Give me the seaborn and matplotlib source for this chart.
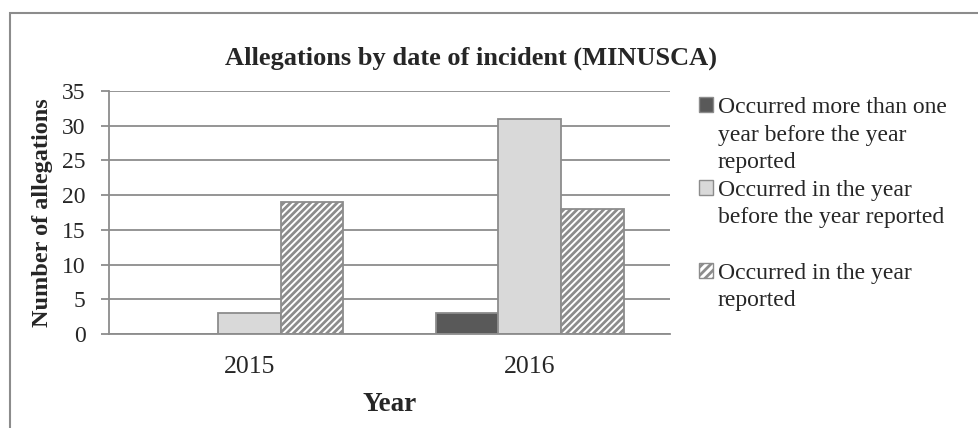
import pandas as pd
import matplotlib
matplotlib.use("Agg")
import matplotlib.pyplot as plt
import seaborn as sns
from matplotlib.patches import Patch, Rectangle

years = ["2015", "2016"]
categories = [
    "Occurred more than one\nyear before the year\nreported",
    "Occurred in the year\nbefore the year reported",
    "Occurred in the year\nreported",
]
more_than_one_year = [0, 3]
year_before = [3, 31]
same_year = [19, 18]

df = pd.DataFrame({
    "Year": years * 3,
    "Type": [categories[0]] * 2 + [categories[1]] * 2 + [categories[2]] * 2,
    "Allegations": more_than_one_year + year_before + same_year,
})

sns.set_style("white")
plt.rcParams["font.family"] = ["Liberation Serif", "DejaVu Serif"]
plt.rcParams["hatch.linewidth"] = 2.0

colors = ["#595959", "#d9d9d9", "white"]
hatches = [None, None, "////"]
edge = "#8c8c8c"

W, H = 979, 428
fig = plt.figure(figsize=(W / 100, H / 100), dpi=100)
ax = fig.add_axes([109 / W, 1 - 334 / H, (670 - 109) / W, (334 - 91) / H])

sns.barplot(data=df, x="Year", y="Allegations", hue="Type", palette=colors,
            width=0.67, gap=0, edgecolor=edge, linewidth=1.3, ax=ax, legend=False)
for bar in ax.containers[2]:
    bar.set_hatch("/////")

ax.set_xlim(-0.5, 1.5)
ax.set_ylim(0, 35)
ax.set_yticks(range(0, 36, 5))
ax.yaxis.grid(True, color=edge, linewidth=1.3)
ax.set_axisbelow(True)
for s in ["top", "right"]:
    ax.spines[s].set_visible(False)
for s in ["left", "bottom"]:
    ax.spines[s].set_color(edge)
    ax.spines[s].set_linewidth(1.3)

# category boundaries get the tick marks, like the Excel original
ax.set_xticks([-0.5, 0.5, 1.5], minor=True)
ax.tick_params(axis="x", which="major", length=0, labelsize=18.5, pad=16)
ax.tick_params(axis="x", which="minor", length=6, color=edge, width=1.3, direction="out")
ax.tick_params(axis="y", length=6, color=edge, width=1.3, labelsize=17, pad=11, left=True)

ax.set_xlabel("Year", fontsize=19.5, fontweight="bold", labelpad=10)
ax.set_ylabel("Number of allegations", fontsize=17.5, fontweight="bold", labelpad=6)
fig.text(471 / W, 1 - 65 / H, "Allegations by date of incident (MINUSCA)", fontsize=19,
         fontweight="bold", ha="center", va="baseline")

# legend: one row per text line so the swatch sits on the first line (Excel style)
blank = Patch(facecolor="none", edgecolor="none")
handles, labels = [], []
for i, cat in enumerate(categories):
    for j, line in enumerate(cat.split("\n")):
        if j == 0:
            handles.append(Patch(facecolor=colors[i], edgecolor=edge, hatch=hatches[i]))
        else:
            handles.append(blank)
        labels.append(line)
    if i == 1:
        handles.append(blank)
        labels.append(" ")

fig.legend(handles, labels, loc="upper left", bbox_to_anchor=(699 / W, 1 - 97 / H),
           frameon=False, fontsize=17, handlelength=0.6, handleheight=0.6,
           handletextpad=0.2, labelspacing=0.28, borderaxespad=0, borderpad=0)

fig.add_artist(Rectangle((10 / W, -0.1), 2, 1 - 13 / H + 0.1, transform=fig.transFigure,
                         fill=False, edgecolor=edge, linewidth=1.5))

fig.savefig("out.png", dpi=100)
